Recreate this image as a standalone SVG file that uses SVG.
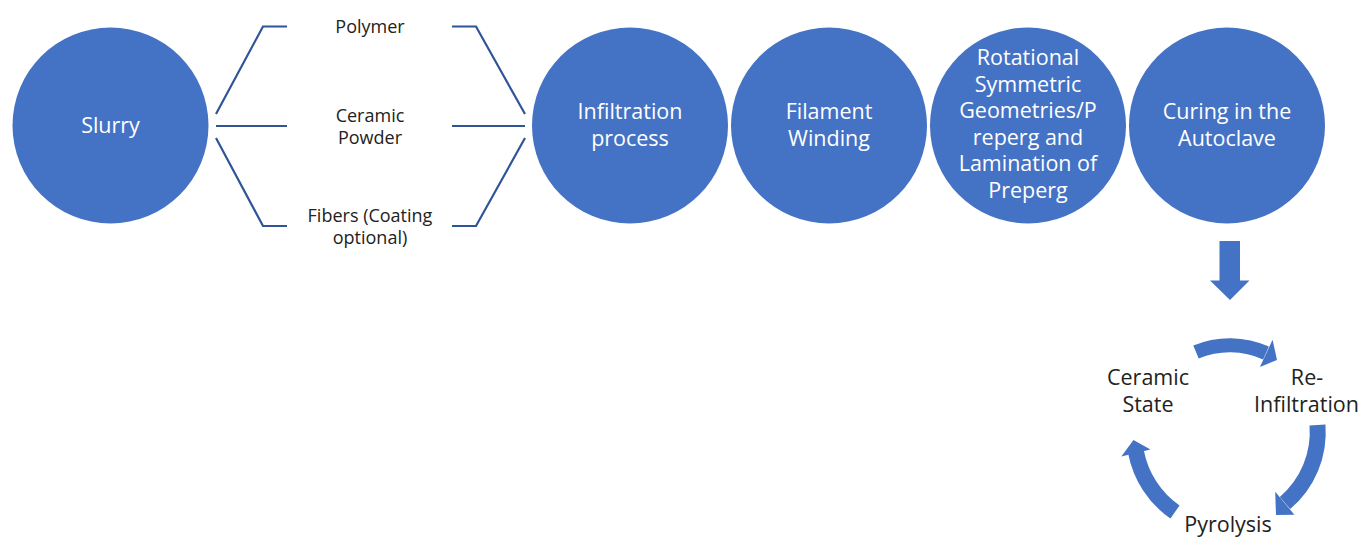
<svg xmlns="http://www.w3.org/2000/svg" width="1371" height="539" viewBox="0 0 1371 539">
<style>
.node{fill:#4472C4}
.nt{font-family:"Open Sans","Liberation Sans",sans-serif;font-size:21.5px;fill:#fff;text-anchor:middle}
.lbl{font-family:"Open Sans","Liberation Sans",sans-serif;font-size:18px;fill:#222;text-anchor:middle}
.cyc{font-family:"Open Sans","Liberation Sans",sans-serif;font-size:21.5px;fill:#222;text-anchor:middle}
.br{fill:none;stroke:#2F5597;stroke-width:2.2}
.band{fill:none;stroke:#4472C4;stroke-width:16}
.ah{fill:#4472C4}
</style>
<rect width="1371" height="539" fill="#fff"/>
<g id="node-slurry"><circle class="node" cx="110.5" cy="125.5" r="98"/><text class="nt" x="110.5" y="133">Slurry</text></g>
<g id="node-infiltration"><circle class="node" cx="630" cy="125.5" r="98"/><text class="nt" x="630" y="119">Infiltration</text><text class="nt" x="630" y="146">process</text></g>
<g id="node-filament"><circle class="node" cx="829" cy="125.5" r="98"/><text class="nt" x="829" y="119">Filament</text><text class="nt" x="829" y="146">Winding</text></g>
<g id="node-rotational"><circle class="node" cx="1028" cy="125.5" r="98"/>
<text class="nt" x="1028" y="65">Rotational</text><text class="nt" x="1028" y="91.5">Symmetric</text><text class="nt" x="1028" y="118">Geometries/P</text><text class="nt" x="1028" y="144.5">reperg and</text><text class="nt" x="1028" y="171">Lamination of</text><text class="nt" x="1028" y="197.5">Preperg</text></g>
<g id="node-curing"><circle class="node" cx="1227" cy="125.5" r="98"/><text class="nt" x="1227" y="119">Curing in the</text><text class="nt" x="1227" y="146">Autoclave</text></g>
<g id="labels">
<text class="lbl" x="370" y="33">Polymer</text>
<text class="lbl" x="370" y="122">Ceramic</text><text class="lbl" x="370" y="143.5">Powder</text>
<text class="lbl" x="370" y="222">Fibers (Coating</text><text class="lbl" x="370" y="243.5">optional)</text>
</g>
<g id="node-ceramic-state"><text class="cyc" x="1148" y="385">Ceramic</text><text class="cyc" x="1148" y="412">State</text></g>
<g id="node-reinfiltration"><text class="cyc" x="1307" y="385">Re-</text><text class="cyc" x="1306.5" y="412">Infiltration</text></g>
<g id="node-pyrolysis"><text class="cyc" x="1228" y="532">Pyrolysis</text></g>
<g id="connectors">
<path class="br" d="M287,26.5 H263 L216,114 M216,126 H287 M216,138 L263,226 H287"/>
<path class="br" d="M452,26.5 H476 L525,114 M525,126 H452 M525,138 L476,226 H452"/>
<polygon class="ah" points="1219.5,241 1240,241 1240,280.5 1249.5,280.5 1230,300 1210,280.5 1219.5,280.5"/>
<path class="band" style="stroke-width:14" d="M1196,352 A88,88 0 0,1 1266,353"/>
<polygon class="ah" points="1272.6,339.7 1259.9,366.9 1277,360"/>
<path class="band" d="M1317.5,425 A93,93 0 0,1 1285,503"/>
<polygon class="ah" points="1294.4,514.7 1275.2,491.7 1276,515"/>
<path class="band" d="M1175,512 A95,95 0 0,1 1136,452"/>
<polygon class="ah" points="1121.3,456.6 1150.4,449.4 1133.5,440"/>
</g>
</svg>
